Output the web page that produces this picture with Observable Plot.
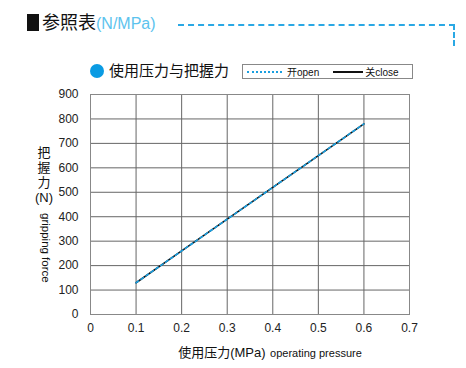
<!DOCTYPE html>
<html>
<head>
<meta charset="utf-8">
<script src="https://cdn.jsdelivr.net/npm/d3@7"></script>
<script src="https://cdn.jsdelivr.net/npm/@observablehq/plot@0.6"></script>
<style>
  html, body { margin: 0; padding: 0; background: #fff; }
  #wrap { position: relative; width: 466px; height: 368px; overflow: hidden;
    font-family: "Liberation Sans", "Noto Sans CJK SC", sans-serif; }
  #wrap > svg { position: absolute; left: 0; top: 0; }
  .abs { position: absolute; white-space: nowrap; line-height: 1; }
</style>
</head>
<body>
<div id="wrap"></div>
<script>
// ---- data ----
const pressure = [0.1, 0.2, 0.3, 0.4, 0.5, 0.6];          // MPa
const openForce = [130, 260, 390, 520, 650, 780];         // N (开 open)
const closeForce = [130, 260, 390, 520, 650, 780];        // N (关 close)
const xTicks = [0, 0.1, 0.2, 0.3, 0.4, 0.5, 0.6, 0.7];
const yTicks = [0, 100, 200, 300, 400, 500, 600, 700, 800, 900];
const titleMain = "参照表";
const titleUnit = "(N/MPa)";
const subtitle = "使用压力与把握力";
const legendOpen = "开open";
const legendClose = "关close";
const xLabelCn = "使用压力(MPa)";
const xLabelEn = "operating pressure";
const yLabelCn = ["把", "握", "力", "(N)"];
const yLabelEn = "gripping force";

const openData = pressure.map((p, i) => ({p, f: openForce[i]}));
const closeData = pressure.map((p, i) => ({p, f: closeForce[i]}));

const chart = Plot.plot({
  width: 466,
  height: 368,
  marginLeft: 90,
  marginRight: 57,
  marginTop: 94,
  marginBottom: 54,
  style: { fontFamily: "'Liberation Sans', 'Noto Sans CJK SC', sans-serif", fontSize: "12px", color: "#222", background: "transparent" },
  x: { domain: [0, 0.7] },
  y: { domain: [0, 900] },
  marks: [
    Plot.gridX(xTicks, { stroke: "#666", strokeOpacity: 1 }),
    Plot.gridY(yTicks, { stroke: "#666", strokeOpacity: 1 }),
    Plot.frame({ stroke: "#888" }),
    Plot.axisX({ ticks: xTicks, tickSize: 0, tickPadding: 9, label: null,
      tickFormat: d => d === 0 ? "0" : d.toFixed(1), fontSize: 12 }),
    Plot.axisY({ ticks: yTicks, tickSize: 0, tickPadding: 12, label: null, fontSize: 12 }),
    Plot.line(closeData, { x: "p", y: "f", stroke: "#111", strokeWidth: 1.6 }),
    Plot.line(openData, { x: "p", y: "f", stroke: "#1a9fe0", strokeWidth: 1.6, strokeDasharray: "3,3" })
  ]
});

const wrap = document.getElementById("wrap");
wrap.appendChild(chart);

function add(html, css) {
  const d = document.createElement("div");
  d.className = "abs";
  d.innerHTML = html;
  Object.assign(d.style, css);
  wrap.appendChild(d);
  return d;
}

// Title
add("", { left: "27px", top: "14px", width: "12px", height: "17px", background: "#111" });
add(`<span style="color:#111;font-family:'Noto Sans CJK SC';font-size:18px">${titleMain}</span><span style="color:#5cc3ee;font-size:16px">${titleUnit}</span>`,
  { left: "42px", top: "12px" });
// dashed decoration
add("", { left: "178px", top: "24px", width: "277px", height: "0", borderTop: "2px dashed #2aa8e4" });
add("", { left: "453px", top: "24px", width: "0", height: "22px", borderRight: "2px dashed #2aa8e4" });

// Subtitle
add("", { left: "90px", top: "64px", width: "14px", height: "14px", borderRadius: "50%", background: "#0a9be3" });
add(subtitle, { left: "109px", top: "62px", fontSize: "15px", color: "#111", fontFamily: "'Noto Sans CJK SC'" });

// Legend box
add(`<span style="display:inline-block;width:35px;border-top:2px dotted #1a9fe0;vertical-align:middle;margin-right:5px"></span><span style="vertical-align:middle">${legendOpen}</span><span style="display:inline-block;width:30px;border-top:2px solid #111;vertical-align:middle;margin-left:14px;margin-right:2px"></span><span style="vertical-align:middle">${legendClose}</span>`,
  { left: "242px", top: "64px", width: "161px", height: "13px", padding: "0 4px", border: "1px solid #888",
    fontSize: "10px", color: "#111", lineHeight: "13px", fontFamily: "'Liberation Sans','Noto Sans CJK SC'" });

// Y label
yLabelCn.forEach((c, i) => {
  add(c, { left: "44px", top: (146 + i * 15) + "px", transform: "translateX(-50%)", fontSize: "13px", color: "#111",
    fontFamily: "'Liberation Sans','Noto Sans CJK SC'" });
});
add(yLabelEn, { left: "39px", top: "213px", fontSize: "11.5px", color: "#111", writingMode: "vertical-rl" });

// X label
add(`<span style="font-size:13px;font-family:'Liberation Sans','Noto Sans CJK SC'">${xLabelCn}</span> <span style="font-size:11px">${xLabelEn}</span>`,
  { left: "270px", top: "344px", transform: "translateX(-50%)", color: "#111" });
</script>
</body>
</html>
